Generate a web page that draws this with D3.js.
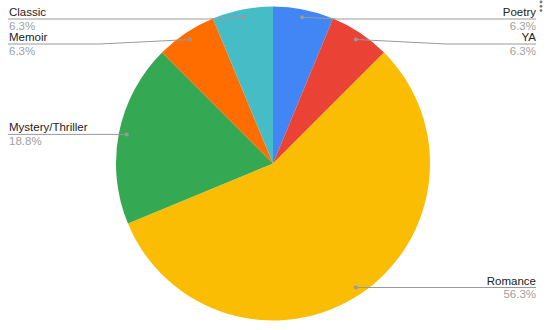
<!DOCTYPE html>
<html>
<head>
<meta charset="utf-8">
<script src="https://cdn.jsdelivr.net/npm/d3@7"></script>
<style>
  body { margin: 0; background: #fff; }
  svg { display: block; font-family: Arial, "Liberation Sans", sans-serif; }
</style>
</head>
<body>
<div class="container"></div>
<script>
// data (clockwise from 12 o'clock)
var genres = ["Poetry", "YA", "Romance", "Mystery/Thriller", "Memoir", "Classic"];
var counts = [1, 1, 9, 3, 1, 1];
var colors = ["#4285F4", "#EA4335", "#FBBC04", "#34A853", "#FF6D01", "#46BDC6"];

var w = 548, h = 330;
var cx = 273, cy = 163.5, r = 157;
var labelLeft = 8, labelRight = 536;

var svg = d3.select(".container")
  .append("svg")
  .attr("width", w)
  .attr("height", h);

var total = d3.sum(counts);
var data = genres.map(function(g, i) { return { name: g, value: counts[i], color: colors[i] }; });

var pie = d3.pie().sort(null).value(function(d) { return d.value; });
var arcs = pie(data);
var arc = d3.arc().innerRadius(0).outerRadius(r);

var g = svg.append("g").attr("transform", "translate(" + cx + "," + cy + ")");

g.selectAll("path")
  .data(arcs)
  .enter()
  .append("path")
  .attr("d", arc)
  .attr("fill", function(d) { return d.data.color; });

// anchor points inside the slices
var anchorR = r * 0.95;
arcs.forEach(function(d) {
  var a = (d.startAngle + d.endAngle) / 2;
  d.ax = cx + anchorR * Math.sin(a);
  d.ay = cy - anchorR * Math.cos(a);
  d.side = d.ax >= cx ? "right" : "left";
});

// simple label layout: keep labels apart from each other and from the top
["left", "right"].forEach(function(side) {
  var list = arcs.filter(function(d) { return d.side == side; })
    .sort(function(a, b) { return a.ay - b.ay; });
  var prev = -Infinity;
  list.forEach(function(d) {
    d.ly = Math.max(d.ay, 19, prev + 25);
    prev = d.ly;
  });
});

var fmt = d3.format(".1f");
var lab = svg.append("g");

arcs.forEach(function(d) {
  var dir = d.side == "right" ? 1 : -1;
  var elbowX = d.ax + dir * 20 * (d.ly - d.ay);
  var endX = d.side == "right" ? labelRight : labelLeft;
  lab.append("polyline")
    .attr("points", [[d.ax, d.ay], [elbowX, d.ly], [endX, d.ly]].join(" "))
    .attr("fill", "none")
    .attr("stroke", "#9a9a9a")
    .attr("stroke-width", 1);
  lab.append("circle")
    .attr("cx", d.ax).attr("cy", d.ay).attr("r", 2)
    .attr("fill", "#999");
  var anchor = d.side == "right" ? "end" : "start";
  var tx = d.side == "right" ? labelRight : labelLeft + 1;
  lab.append("text")
    .attr("x", tx).attr("y", d.ly - 3)
    .attr("text-anchor", anchor)
    .attr("font-size", 11.5)
    .attr("fill", "#222")
    .text(d.data.name);
  lab.append("text")
    .attr("x", tx).attr("y", d.ly + 10.5)
    .attr("text-anchor", anchor)
    .attr("font-size", 11.5)
    .attr("fill", "#a0a0a0")
    .text(fmt(d.data.value / total * 100) + "%");
});

// menu dots top-right
svg.append("g").selectAll("circle")
  .data([2, 6.3, 10.6])
  .enter()
  .append("circle")
  .attr("cx", 541).attr("cy", function(d) { return d; })
  .attr("r", 1.4)
  .attr("fill", "#777");
</script>
</body>
</html>
